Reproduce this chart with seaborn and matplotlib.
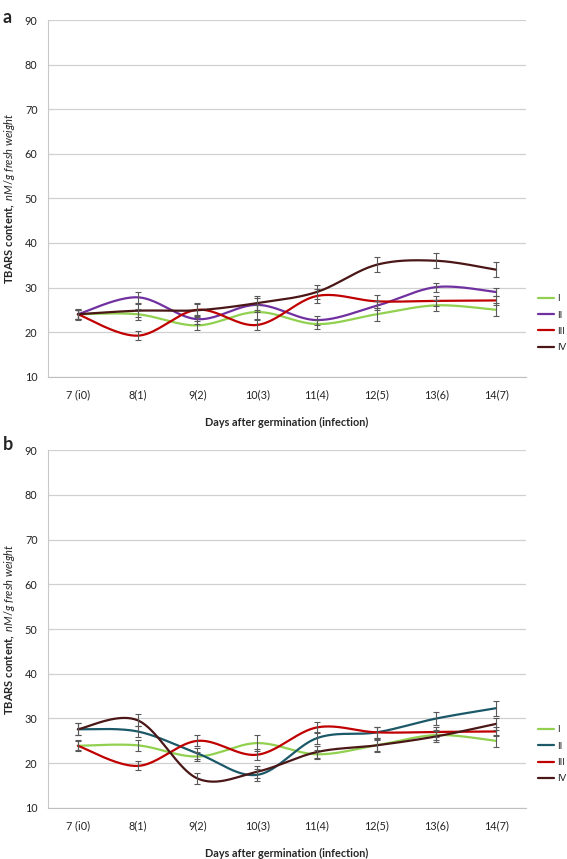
import numpy as np
import pandas as pd
import matplotlib
matplotlib.use("Agg")
import matplotlib.pyplot as plt
import seaborn as sns

# x categories
days = ["7 (i0)", "8(1)", "9(2)", "10(3)", "11(4)", "12(5)", "13(6)", "14(7)"]
series_names = ["I", "II", "III", "IV"]

# panel a values
a_I = [24.0, 24.0, 21.5, 24.5, 21.8, 24.0, 26.0, 25.0]
a_II = [24.0, 27.8, 22.9, 26.1, 22.7, 25.9, 30.1, 29.0]
a_III = [24.0, 19.2, 25.0, 21.6, 28.1, 26.9, 27.0, 27.1]
a_IV = [24.0, 24.8, 24.9, 26.5, 29.0, 35.1, 36.0, 34.0]
a_I_err = [1.0, 1.2, 1.0, 1.5, 1.0, 1.5, 1.2, 1.5]
a_II_err = [1.2, 1.2, 1.0, 1.5, 1.0, 1.0, 1.0, 1.0]
a_III_err = [1.0, 1.0, 1.5, 1.2, 1.5, 1.5, 1.2, 1.0]
a_IV_err = [1.0, 1.5, 1.5, 1.5, 1.5, 1.7, 1.7, 1.7]

# panel b values
b_I = [23.9, 24.0, 21.5, 24.5, 22.0, 24.0, 26.3, 25.0]
b_II = [27.6, 27.1, 22.2, 17.4, 25.6, 26.9, 30.0, 32.3]
b_III = [23.9, 19.4, 25.0, 21.9, 28.0, 26.9, 27.0, 27.1]
b_IV = [27.6, 29.6, 16.6, 18.1, 22.5, 24.0, 26.0, 28.8]
b_I_err = [1.2, 1.2, 1.0, 1.7, 1.0, 1.5, 1.2, 1.3]
b_II_err = [1.3, 1.3, 1.2, 1.3, 1.3, 1.3, 1.4, 1.7]
b_III_err = [1.0, 1.0, 1.2, 1.2, 1.3, 1.3, 1.2, 1.0]
b_IV_err = [1.3, 1.3, 1.2, 1.3, 1.3, 1.3, 1.2, 1.3]

colors_a = ["#92D050", "#7030A0", "#C00000", "#4A1616"]
colors_b = ["#92D050", "#1B5868", "#C00000", "#4A1616"]


# Excel-style smoothed line (Catmull-Rom through the points)
def smooth(y, n=40):
    y = np.asarray(y, dtype=float)
    x = np.arange(len(y), dtype=float)
    xs, ys = [], []
    for i in range(len(y) - 1):
        p0 = (x[max(i - 1, 0)], y[max(i - 1, 0)])
        p1 = (x[i], y[i])
        p2 = (x[i + 1], y[i + 1])
        p3 = (x[min(i + 2, len(y) - 1)], y[min(i + 2, len(y) - 1)])
        c1 = (p1[0] + (p2[0] - p0[0]) / 6, p1[1] + (p2[1] - p0[1]) / 6)
        c2 = (p2[0] - (p3[0] - p1[0]) / 6, p2[1] - (p3[1] - p1[1]) / 6)
        t = np.linspace(0, 1, n)
        bx = (1 - t) ** 3 * p1[0] + 3 * (1 - t) ** 2 * t * c1[0] + 3 * (1 - t) * t ** 2 * c2[0] + t ** 3 * p2[0]
        by = (1 - t) ** 3 * p1[1] + 3 * (1 - t) ** 2 * t * c1[1] + 3 * (1 - t) * t ** 2 * c2[1] + t ** 3 * p2[1]
        xs.extend(bx)
        ys.extend(by)
    return np.array(xs), np.array(ys)


def draw_panel(ax, values, errs, colors):
    pos = np.arange(len(days))
    for name, v, e, c in zip(series_names, values, errs, colors):
        xs, ys = smooth(v)
        df = pd.DataFrame({"x": xs, "y": ys})
        sns.lineplot(data=df, x="x", y="y", ax=ax, color=c, lw=1.6,
                     sort=False, estimator=None, label=name, zorder=3)
        ax.errorbar(pos, v, yerr=e, fmt="none", ecolor="#595959",
                    elinewidth=0.8, capsize=2, capthick=0.8, zorder=4)
    ax.set_xlim(-0.5, len(days) - 0.5)
    ax.set_ylim(10, 90)
    ax.set_yticks(range(10, 91, 10))
    ax.set_xticks(pos)
    ax.set_xticklabels(days)
    ax.grid(axis="y", color="#D0D0D0", lw=0.9)
    ax.grid(axis="x", visible=False)
    for s in ["top", "right"]:
        ax.spines[s].set_visible(False)
    ax.spines["left"].set_color("#C8C8C8")
    ax.spines["bottom"].set_color("#C0C0C0")
    ax.tick_params(axis="both", colors="#C0C0C0", labelcolor="#222222",
                   labelsize=7.8, length=4, width=0.8)
    ax.tick_params(axis="x", pad=5)
    ax.set_xlabel("Days after germination (infection)", fontsize=7.8,
                  fontweight="bold", labelpad=12)
    ax.set_ylabel(r"$\bf{TBARS\ content,}$ $\it{nM/g\ fresh\ weight}$",
                  fontsize=8, labelpad=6)
    ax.legend(loc="center left", bbox_to_anchor=(1.025, 0.15), frameon=False,
              fontsize=7, handlelength=1.6, handletextpad=0.4,
              labelspacing=0.75, borderaxespad=0, borderpad=0)


sns.set_style("white")
plt.rcParams["font.family"] = ["Lato", "DejaVu Sans"]
plt.rcParams["mathtext.fontset"] = "custom"
plt.rcParams["mathtext.rm"] = "Lato"
plt.rcParams["mathtext.bf"] = "Lato:bold"
plt.rcParams["mathtext.it"] = "Lato:italic"

fig = plt.figure(figsize=(5.67, 8.59), dpi=100)
ax_a = fig.add_axes([0.0847, 0.5615, 0.843, 0.4152])
ax_b = fig.add_axes([0.0847, 0.0594, 0.843, 0.4167])

draw_panel(ax_a, [a_I, a_II, a_III, a_IV],
           [a_I_err, a_II_err, a_III_err, a_IV_err], colors_a)
draw_panel(ax_b, [b_I, b_II, b_III, b_IV],
           [b_I_err, b_II_err, b_III_err, b_IV_err], colors_b)

fig.text(0.005, 0.99, "a", fontsize=13, fontweight="bold", va="top")
fig.text(0.005, 0.492, "b", fontsize=13, fontweight="bold", va="top")

fig.savefig("out.png", dpi=100)
